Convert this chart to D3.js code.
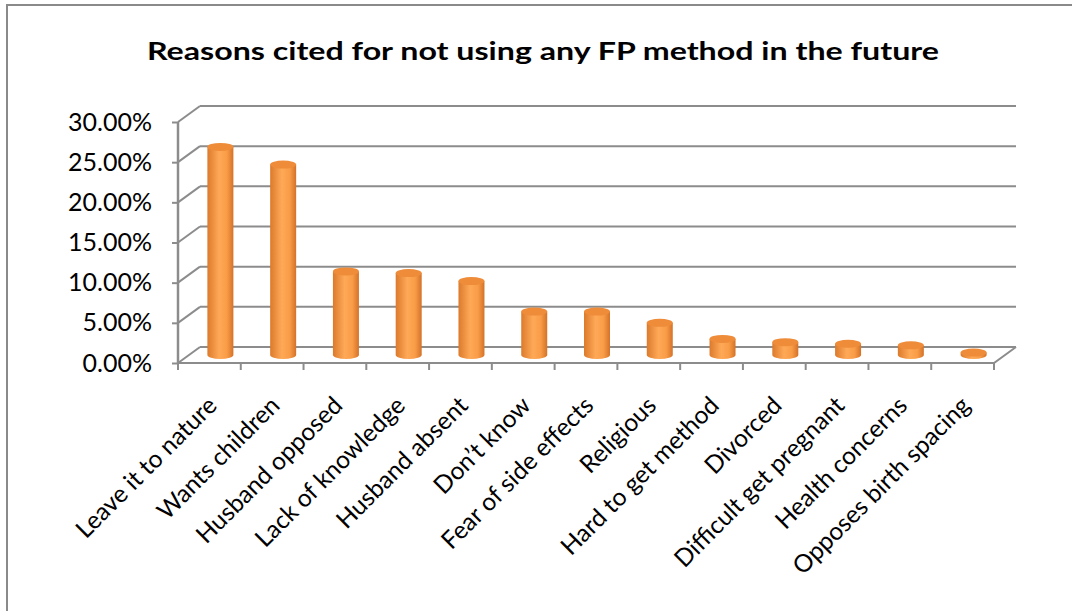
<!DOCTYPE html>
<html>
<head>
<meta charset="utf-8">
<script src="https://cdn.jsdelivr.net/npm/d3@7"></script>
<style>
  body { margin: 0; background: #fff; overflow: hidden; }
  svg { display: block; }
  text { font-family: Lato, "Open Sans", sans-serif; }
</style>
</head>
<body>
<div id="app"></div>
<script>
const categories = [
  "Leave it to nature", "Wants children", "Husband opposed", "Lack of knowledge",
  "Husband absent", "Don\u2019t know", "Fear of side effects", "Religious",
  "Hard to get method", "Divorced", "Difficult get pregnant", "Health concerns",
  "Opposes birth spacing"
];
const values = [0.259, 0.237, 0.104, 0.102, 0.092, 0.054, 0.054, 0.040, 0.020, 0.016, 0.014, 0.012, 0.003];
const yTicks = [0, 0.05, 0.10, 0.15, 0.20, 0.25, 0.30];
const title = "Reasons cited for not using any FP method in the future";

const width = 1072, height = 611;
const depth = { dx: 22, dy: -16 };
const gridColor = "#8c8c8c";

const svg = d3.select("#app").append("svg")
  .attr("width", width)
  .attr("height", height);

// outer chart frame (runs off the page at right/bottom)
svg.append("rect")
  .attr("x", 7).attr("y", 5)
  .attr("width", 1100).attr("height", 700)
  .attr("fill", "#fff")
  .attr("stroke", "#8a8a8a")
  .attr("stroke-width", 2);

const x = d3.scaleBand().domain(categories).range([178, 994]);
const y = d3.scaleLinear().domain([0, 0.30]).range([363, 122]);

svg.append("text")
  .attr("x", 543).attr("y", 60)
  .attr("text-anchor", "middle")
  .attr("font-size", 25.5)
  .attr("font-weight", "bold")
  .attr("textLength", 792)
  .attr("lengthAdjust", "spacingAndGlyphs")
  .text(title);

const grid = svg.append("g").attr("stroke", gridColor).attr("stroke-width", 2).attr("fill", "none");

// back wall gridlines
grid.selectAll("line.back").data(yTicks).enter().append("line")
  .attr("class", "back")
  .attr("x1", x.range()[0] + depth.dx)
  .attr("x2", x.range()[1] + depth.dx)
  .attr("y1", d => y(d) + depth.dy)
  .attr("y2", d => y(d) + depth.dy);

// side wall diagonals
grid.selectAll("line.side").data(yTicks).enter().append("line")
  .attr("class", "side")
  .attr("x1", x.range()[0])
  .attr("x2", x.range()[0] + depth.dx)
  .attr("y1", d => y(d))
  .attr("y2", d => y(d) + depth.dy);

// floor front edge + right edge
grid.append("path")
  .attr("d", `M${x.range()[0]},${y(0)} L${x.range()[1]},${y(0)} L${x.range()[1] + depth.dx},${y(0) + depth.dy}`);

// front vertical axis with ticks
const yAxis = d3.axisLeft(y).tickValues(yTicks).tickSize(6).tickFormat(d3.format(".2%"));
const yg = svg.append("g").attr("transform", `translate(${x.range()[0]},0)`).call(yAxis);
yg.select(".domain").attr("stroke", gridColor).attr("stroke-width", 2.5)
  .attr("d", `M0,${y(0.30)}V${y(0)}`);
yg.selectAll(".tick line").attr("stroke", gridColor).attr("stroke-width", 2);
yg.selectAll(".tick text")
  .attr("x", -26)
  .attr("font-size", 25)
  .attr("fill", "#000");

// category axis
const xg = svg.append("g").attr("transform", `translate(0,${y(0)})`);
const boundaries = categories.map(c => x(c)).concat([x.range()[1]]);
xg.selectAll("line.b").data(boundaries).enter().append("line")
  .attr("x1", d => d).attr("x2", d => d)
  .attr("y1", 0).attr("y2", 7)
  .attr("stroke", gridColor).attr("stroke-width", 2);

xg.selectAll("text.lab").data(categories).enter().append("text")
  .attr("class", "lab")
  .attr("transform", d => `translate(${x(d) + x.bandwidth() / 2 + 9},${44}) rotate(-45)`)
  .attr("text-anchor", "end")
  .attr("font-size", 24.5)
  .attr("fill", "#000")
  .text(d => d);

// cylinders
const defs = svg.append("defs");
const grad = defs.append("linearGradient").attr("id", "cyl").attr("x1", "0").attr("x2", "1").attr("y1", "0").attr("y2", "0");
grad.append("stop").attr("offset", "0").attr("stop-color", "#dc7a2c");
grad.append("stop").attr("offset", "0.45").attr("stop-color", "#fea957");
grad.append("stop").attr("offset", "0.75").attr("stop-color", "#f99c47");
grad.append("stop").attr("offset", "1").attr("stop-color", "#d47228");

const barW = 26, ry = 4;
const bars = svg.append("g").attr("transform", `translate(${depth.dx / 2},${depth.dy / 2})`);
const data = categories.map((c, i) => ({ c, v: values[i] }));

const cyl = bars.selectAll("g").data(data).enter().append("g")
  .attr("transform", d => `translate(${x(d.c) + x.bandwidth() / 2},0)`);

cyl.append("path")
  .attr("fill", "url(#cyl)")
  .attr("d", d => {
    const top = y(d.v), base = y(0);
    return `M${-barW / 2},${top} L${-barW / 2},${base} A${barW / 2},${ry} 0 0 0 ${barW / 2},${base} L${barW / 2},${top} Z`;
  });

cyl.append("ellipse")
  .attr("cx", 0)
  .attr("cy", d => y(d.v))
  .attr("rx", barW / 2)
  .attr("ry", ry)
  .attr("fill", "#ee8c3a");
</script>
</body>
</html>
